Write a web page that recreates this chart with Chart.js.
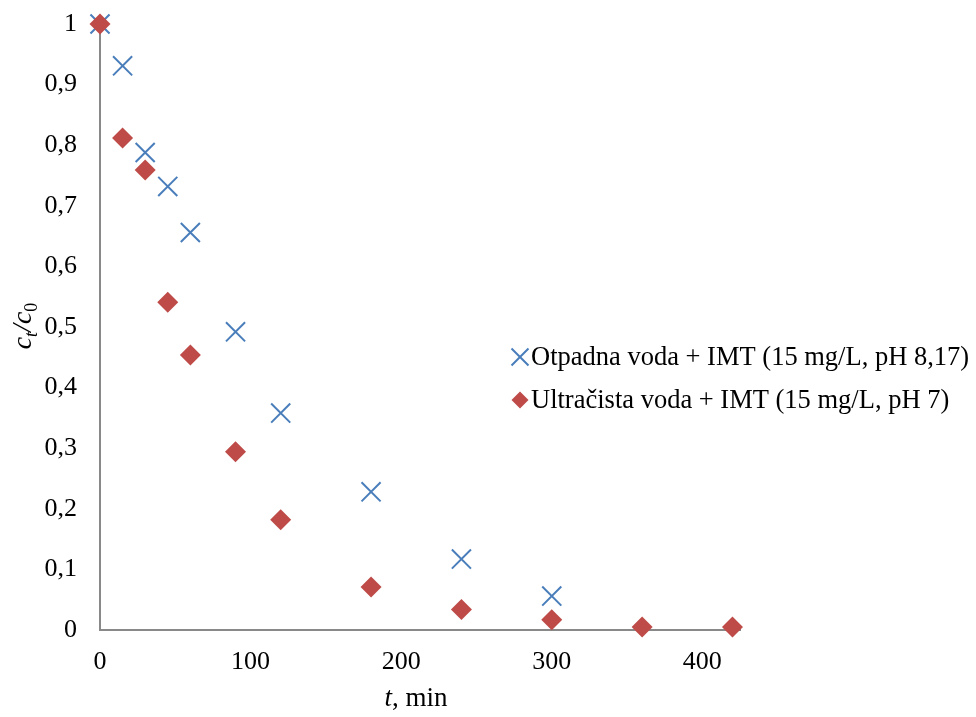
<!doctype html>
<html lang="sr">
<head>
<meta charset="utf-8" />
<title>ct/c0 vs t</title>
<script src="https://cdn.jsdelivr.net/npm/chart.js"></script>
<style>
  body{margin:0;background:#fff}
  #chart{display:block}
</style>
</head>
<body>
<canvas id="chart" width="976" height="717"></canvas>
<script>
// values
const timeOtpadna = [0, 15, 30, 45, 60, 90, 120, 180, 240, 300];
const otpadna = [1, 0.931, 0.788, 0.732, 0.656, 0.492, 0.358, 0.228, 0.117, 0.056];
const timeUltra = [0, 15, 30, 45, 60, 90, 120, 180, 240, 300, 360, 420];
const ultra = [1, 0.812, 0.759, 0.541, 0.454, 0.294, 0.182, 0.071, 0.034, 0.017, 0.005, 0.005];
const xTicks = [0, 100, 200, 300, 400];
const legendLabels = ['Otpadna voda + IMT (15 mg/L, pH 8,17)', 'Ultračista voda + IMT (15 mg/L, pH 7)'];

const BLUE = '#4a7ebb', RED = '#be4b48', AXIS = '#898989';
const SERIF = '"Liberation Serif", "Times New Roman", serif';

function pts(xs, ys){ return xs.map((x,i)=>({x:x, y:ys[i]})); }

// axis titles + legend drawn inside the canvas
const extras = {
  id:'extras',
  afterDraw(chart){
    const ctx = chart.ctx;
    ctx.save();
    ctx.fillStyle = '#000';
    ctx.textBaseline = 'alphabetic';
    ctx.textAlign = 'left';

    // x title: "t, min"
    ctx.font = 'italic 27px ' + SERIF;
    const tW = ctx.measureText('t').width;
    ctx.font = '27px ' + SERIF;
    const rW = ctx.measureText(', min').width;
    let sx = 416 - (tW + rW)/2;
    ctx.font = 'italic 27px ' + SERIF;
    ctx.fillText('t', sx, 706);
    ctx.font = '27px ' + SERIF;
    ctx.fillText(', min', sx + tW, 706);

    // y title: c_t/c_0 rotated
    ctx.translate(31, 326);
    ctx.rotate(-Math.PI/2);
    const parts = [
      {t:'c', f:'italic 28px ', dy:0},
      {t:'t', f:'italic 18px ', dy:6},
      {t:'/', f:'italic 28px ', dy:0},
      {t:'c', f:'italic 28px ', dy:0},
      {t:'0', f:'18px ', dy:6}
    ];
    let total = 0;
    parts.forEach(p=>{ ctx.font = p.f + SERIF; p.w = ctx.measureText(p.t).width; total += p.w; });
    let px = -total/2;
    parts.forEach(p=>{ ctx.font = p.f + SERIF; ctx.fillText(p.t, px, p.dy); px += p.w; });
    ctx.setTransform(1,0,0,1,0,0);

    // legend
    const rows = [357, 400];
    const styles = [
      {pointStyle:'crossRot', radius:12, borderWidth:2, color:BLUE},
      {pointStyle:'rectRot', radius:8.5, borderWidth:0, color:RED}
    ];
    legendLabels.forEach((lab,i)=>{
      const s = styles[i];
      ctx.fillStyle = s.color; ctx.strokeStyle = s.color; ctx.lineWidth = s.borderWidth;
      Chart.helpers.drawPoint(ctx, {pointStyle:s.pointStyle, radius:s.radius, rotation:0, borderWidth:s.borderWidth}, 520, rows[i]);
      ctx.fillStyle = '#000';
      ctx.font = '26.5px ' + SERIF;
      ctx.textAlign = 'left';
      ctx.textBaseline = 'middle';
      ctx.fillText(lab, 531, rows[i] + 1);
    });
    ctx.restore();
  }
};

new Chart(document.getElementById('chart'), {
  type:'scatter',
  data:{
    datasets:[
      {
        label:legendLabels[0],
        data:pts(timeOtpadna, otpadna),
        pointStyle:'crossRot',
        pointRadius:13.5,
        pointHoverRadius:13.5,
        borderColor:BLUE,
        backgroundColor:BLUE,
        pointBorderWidth:2,
        order:1,
        clip:false
      },
      {
        label:legendLabels[1],
        data:pts(timeUltra, ultra),
        pointStyle:'rectRot',
        pointRadius:10.5,
        pointHoverRadius:10.5,
        borderColor:RED,
        backgroundColor:RED,
        pointBorderWidth:0,
        order:0,
        clip:false
      }
    ]
  },
  options:{
    responsive:false,
    animation:false,
    layout:{padding:{left:0, top:24, right:236, bottom:0}},
    plugins:{legend:{display:false}, tooltip:{enabled:false}},
    scales:{
      x:{
        type:'linear', min:0, max:425,
        afterBuildTicks:(s)=>{ s.ticks = xTicks.map(v=>({value:v})); },
        afterFit:(s)=>{ s.height = 87; s.paddingLeft = 0; s.paddingRight = 0; },
        grid:{display:false, drawTicks:false},
        border:{display:true, color:AXIS, width:2},
        ticks:{color:'#000', padding:17, maxRotation:0, font:{family:SERIF, size:26}}
      },
      y:{
        min:0, max:1,
        afterFit:(s)=>{ s.width = 100; s.paddingTop = 0; s.paddingBottom = 0; },
        grid:{display:false, drawTicks:false},
        border:{display:true, color:AXIS, width:2},
        ticks:{
          stepSize:0.1, color:'#000', padding:23, font:{family:SERIF, size:26},
          callback:(v)=> (v===0||v===1) ? String(v) : v.toFixed(1).replace('.', ',')
        }
      }
    }
  },
  plugins:[extras]
});
</script>
</body>
</html>
